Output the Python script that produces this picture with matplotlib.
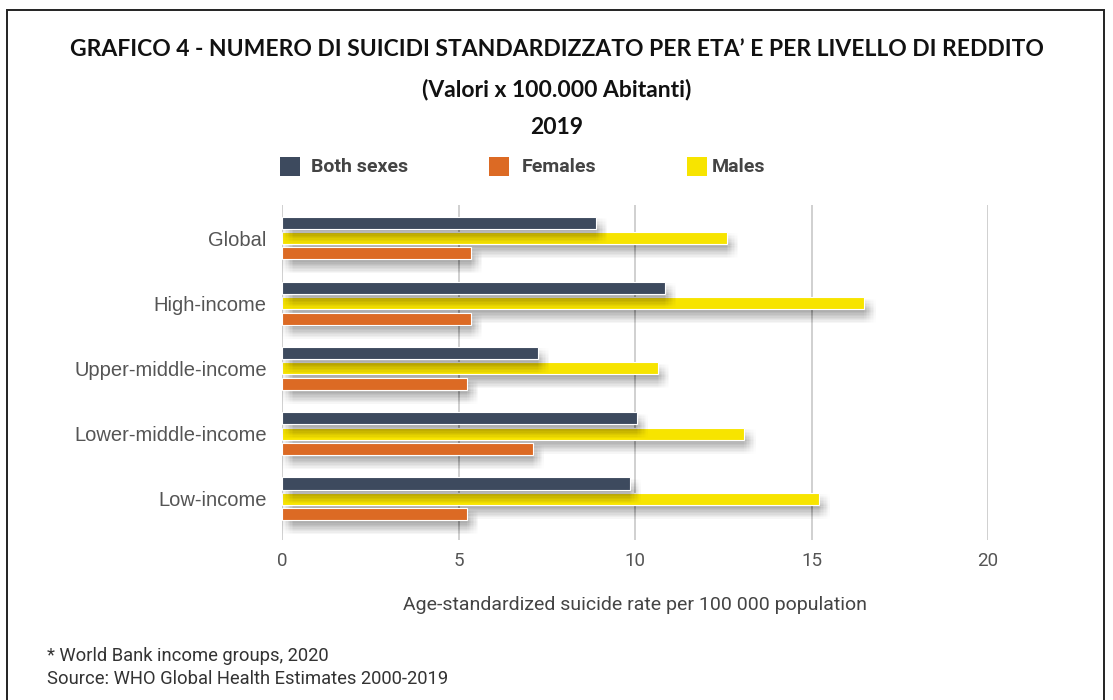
import matplotlib
matplotlib.use("Agg")
import matplotlib.pyplot as plt
import matplotlib.patheffects as pe
from matplotlib.patches import Rectangle
import numpy as np

groups = ["Global", "High-income", "Upper-middle-income",
          "Lower-middle-income", "Low-income"]
both_sexes = [8.9, 10.85, 7.25, 10.05, 9.85]
males = [12.6, 16.5, 10.65, 13.1, 15.2]
females = [5.35, 5.35, 5.25, 7.1, 5.25]
series_labels = ["Both sexes", "Females", "Males"]
xticks = [0, 5, 10, 15, 20]

c_both = "#3d4a5e"
c_fem = "#dc6a24"
c_mal = "#f7e400"

W, H = 1113, 700
fig = plt.figure(figsize=(W / 100, H / 100), dpi=100)
fig.patch.set_facecolor("white")

# frame round the whole chart
fig.add_artist(Rectangle((7 / W, -0.02), (1104 - 7) / W, 1.02 - 10 / H,
                         transform=fig.transFigure, fill=False,
                         edgecolor="#222222", lw=1.4))

head = ["Lato", "DejaVu Sans"]
body = ["Roboto", "DejaVu Sans"]
fig.text(0.5, 1 - 50 / H,
         "GRAFICO 4 - NUMERO DI SUICIDI STANDARDIZZATO PER ETA\u2019 E PER LIVELLO DI REDDITO",
         ha="center", va="center", fontsize=16.5, fontweight="bold",
         family=head, color="#111111")
fig.text(0.5, 1 - 90 / H, "(Valori x 100.000 Abitanti)", ha="center",
         va="center", fontsize=16.5, fontweight="bold", family=head,
         color="#111111")
fig.text(0.5, 1 - 127 / H, "2019", ha="center", va="center", fontsize=16.5,
         fontweight="bold", family=head, color="#111111")

ax = fig.add_axes([282 / W, 1 - 540 / H, (988 - 282) / W, (540 - 205) / H])

y = np.arange(len(groups))
h = 0.185
off = 0.236


def shadow():
    # soft drop shadow built from many faint offset copies
    fx = []
    for dx in np.arange(0.0, 9.0, 1.0):
        for dy in np.arange(1.0, 11.0, 1.0):
            fx.append(pe.SimplePatchShadow(offset=(dx, -dy),
                                           shadow_rgbFace="#303030",
                                           alpha=0.0028))
    fx.append(pe.Normal())
    return fx


# males first, then females over its shadow; both sexes last so its
# shadow falls across the yellow bar
bm = ax.barh(y, males, height=h, color=c_mal, edgecolor="white",
             lw=0.8, zorder=2)
bf = ax.barh(y + off, females, height=h, color=c_fem, edgecolor="white",
             lw=0.8, zorder=3)
bb = ax.barh(y - off, both_sexes, height=h, color=c_both, edgecolor="white",
             lw=0.8, zorder=4)
for bars in (bm, bf, bb):
    for p in bars:
        p.set_path_effects(shadow())

ax.set_xlim(0, 20)
ax.set_ylim(4.63, -0.506)
ax.set_xticks(xticks)
ax.set_xticklabels([str(t) for t in xticks], family=body, fontsize=13.5,
                   color="#555555")
ax.set_yticks(y)
ax.set_yticklabels(groups, fontsize=14.5, color="#555555",
                   family=["Liberation Sans", "DejaVu Sans"])
ax.tick_params(axis="both", length=0)
ax.tick_params(axis="x", pad=9)
ax.tick_params(axis="y", pad=11)
for s in ax.spines.values():
    s.set_visible(False)
ax.grid(axis="x", color="#c8c8c8", lw=1.2, zorder=0)
ax.set_axisbelow(True)

# legend
for lx, tx, col, lab in zip((280, 489, 687), (311, 522, 712),
                            (c_both, c_fem, c_mal), series_labels):
    fig.add_artist(Rectangle((lx / W, 1 - 176 / H), 20 / W, 19 / H,
                             transform=fig.transFigure, color=col, lw=0))
    fig.text(tx / W, 1 - 167 / H, lab, ha="left", va="center", fontsize=14,
             fontweight="bold", family=body, color="#444444")

fig.text(635 / W, 1 - 605 / H,
         "Age-standardized suicide rate per 100 000 population",
         ha="center", va="center", fontsize=14, family=body, color="#444444")
fig.text(47 / W, 1 - 656 / H, "* World Bank income groups, 2020",
         ha="left", va="center", fontsize=13.2, family=body, color="#333333")
fig.text(47 / W, 1 - 679 / H, "Source: WHO Global Health Estimates 2000-2019",
         ha="left", va="center", fontsize=13.2, family=body, color="#333333")

fig.savefig("out.png", dpi=100, facecolor="white")
